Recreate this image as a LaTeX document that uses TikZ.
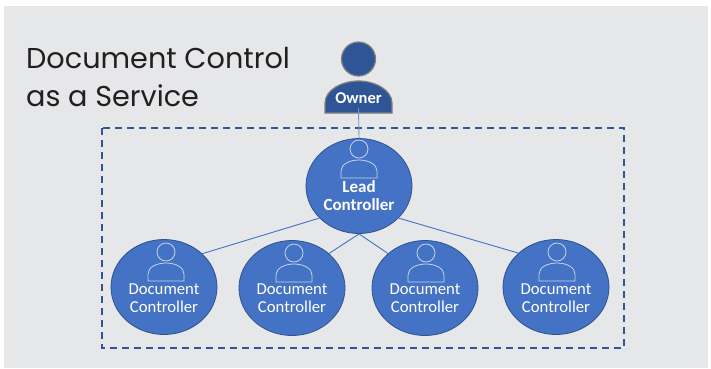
\documentclass[tikz,border=0pt]{standalone}
\usepackage{fontspec}
\setmainfont{Carlito}
\newfontfamily\titlefont{Poppins}
\usetikzlibrary{shapes.geometric}
\definecolor{panelbg}{HTML}{E6E7E9}
\definecolor{circfill}{HTML}{4472C4}
\definecolor{circedge}{HTML}{2F528F}
\definecolor{ownerfill}{HTML}{2F5597}
\definecolor{owneredge}{HTML}{7F7F7F}
\definecolor{iconline}{HTML}{C9D3E8}
\definecolor{titleink}{HTML}{231F20}
\tikzset{
  x=1pt,y=-1pt,
  personcircle/.style={ellipse,draw=circedge,fill=circfill,line width=0.8pt,inner sep=0pt,minimum width=106pt,minimum height=95pt},
  doctext/.style={text=white,align=center,font=\fontsize{16.7}{18}\selectfont,inner sep=0pt},
  leadtext/.style={text=white,align=center,font=\fontsize{17}{18}\selectfont\bfseries,inner sep=0pt},
  link/.style={draw=circfill,line width=0.9pt},
  icon/.style={draw=iconline,line width=0.8pt},
  boundary/.style={draw=ownerfill,line width=1.5pt,dash pattern=on 7pt off 5pt},
  titletext/.style={text=titleink,align=left,anchor=west,inner sep=0pt,font=\titlefont\fontsize{28.7}{38}\selectfont},
  persicon/.pic={
    \draw[icon] (0,-35) circle[radius=9];
    \draw[icon] (-18,-6) -- (-18,-13) .. controls (-18,-20) and (-9,-24) .. (0,-24) .. controls (9,-24) and (18,-20) .. (18,-13) -- (18,-6) -- cycle;
  }
}
\begin{document}
\begin{tikzpicture}
\useasboundingbox (0,0) rectangle (711,368);
\fill[panelbg] (4,6) rectangle (708,368);
\node[titletext] (title) at (26,77) {Document Control\\as a Service};
\draw[boundary] (102,128) rectangle (624,348);
\node[inner sep=0pt,minimum size=0pt] (ownerbase) at (358.5,108) {};
\node[personcircle] (lead) at (359,186) {};
\node[personcircle] (d1) at (164,287) {};
\node[personcircle] (d2) at (292,288) {};
\node[personcircle] (d3) at (425,288) {};
\node[personcircle] (d4) at (556,287) {};
\draw[draw=owneredge,fill=ownerfill,line width=1.2pt] (358.5,59) circle[radius=17];
\draw[draw=owneredge,fill=ownerfill,line width=1.2pt] (325,113) -- (325,103) .. controls (325,90) and (342,81) .. (358.5,81) .. controls (375,81) and (392,90) .. (392,103) -- (392,113) -- cycle;
\node[text=white,font=\fontsize{16.5}{18}\selectfont\bfseries,inner sep=0pt] (ownerlabel) at (358.5,98) {Owner};
\draw[link,draw=circfill!75!white] (ownerbase) -- (lead.north);
\draw[link] (lead.219) -- (d1.41);
\draw[link] (lead.270) -- (d2.43);
\draw[link] (lead.270) -- (d3.137);
\draw[link] (lead.-39) -- (d4.138);
\pic at (359,184) {persicon};
\pic at (166,287) {persicon};
\pic at (294,288) {persicon};
\pic at (426,288) {persicon};
\pic at (557,287) {persicon};
\node[leadtext] (leadlabel) at (359,196) {Lead\\Controller};
\node[doctext] (d1label) at (164,298) {Document\\Controller};
\node[doctext] (d2label) at (292,298) {Document\\Controller};
\node[doctext] (d3label) at (425,298) {Document\\Controller};
\node[doctext] (d4label) at (556,298) {Document\\Controller};
\end{tikzpicture}
\end{document}
